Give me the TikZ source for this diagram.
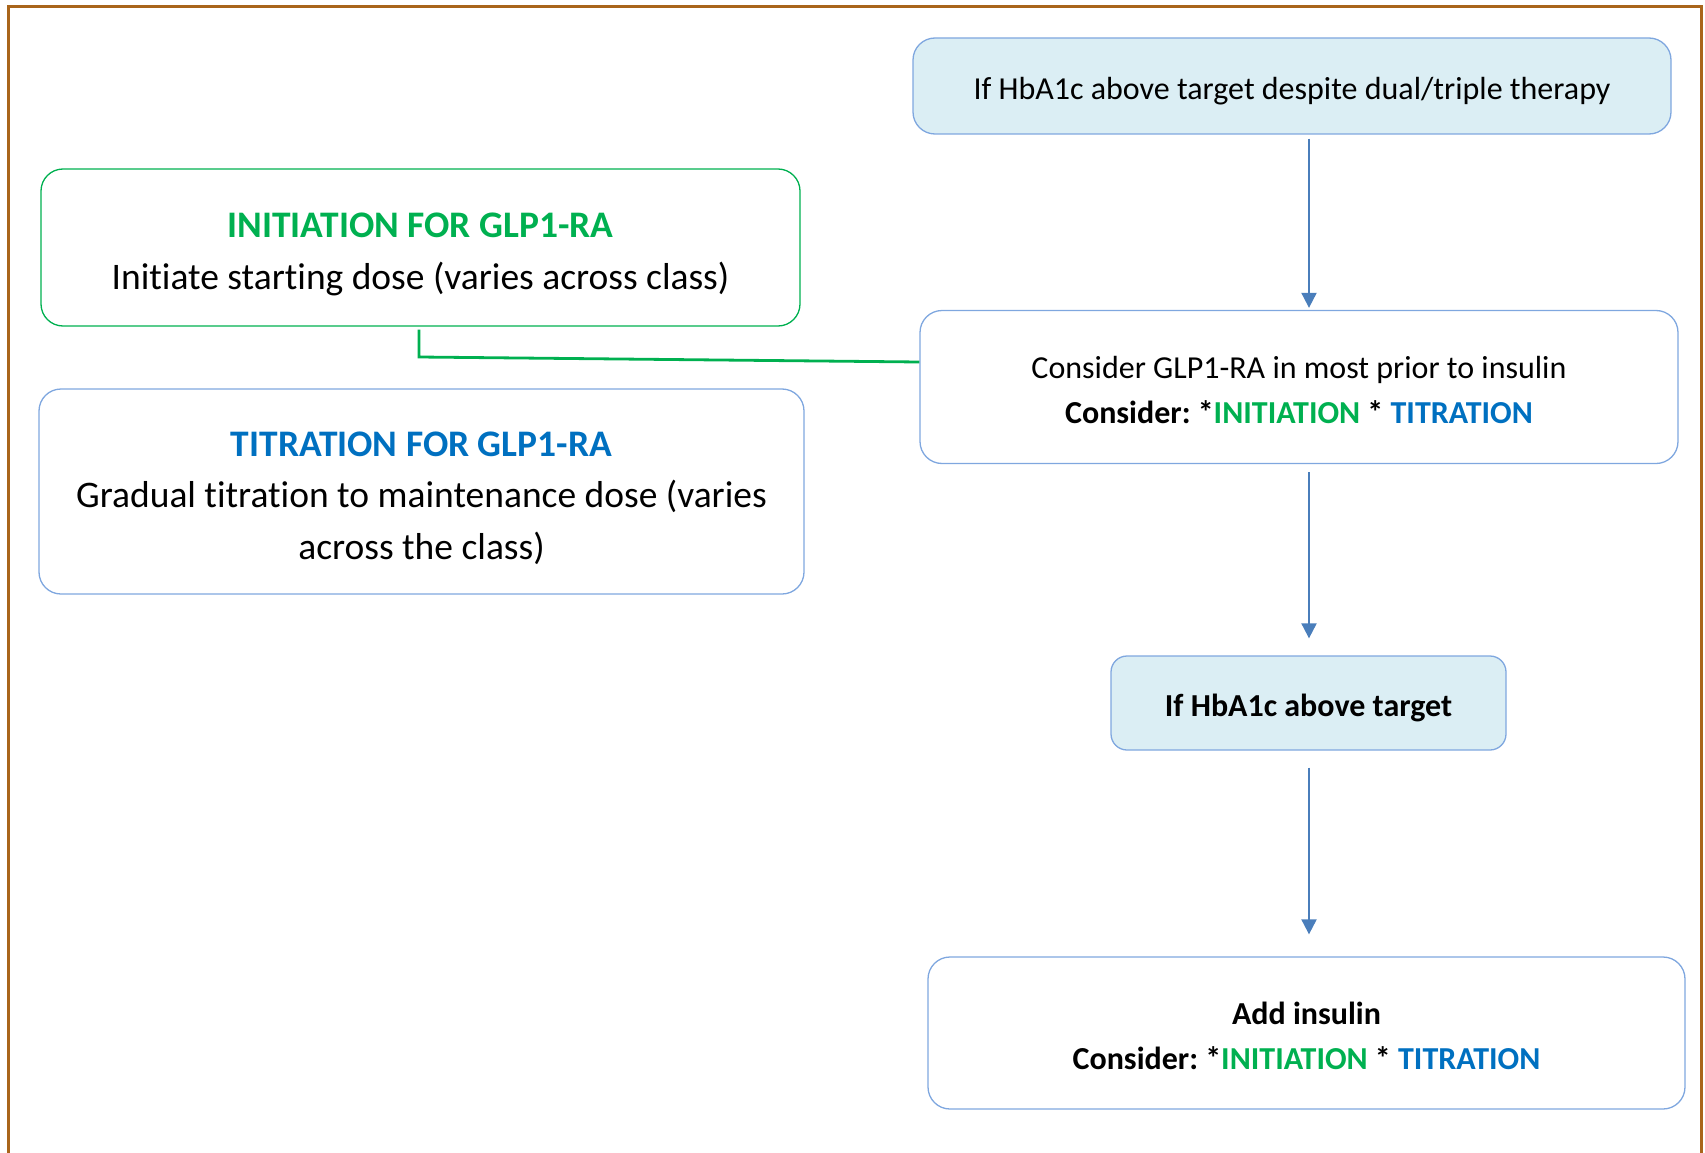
\documentclass[tikz,border=0pt]{standalone}
\usepackage{fontspec}
\setmainfont{Carlito}[Ligatures=NoCommon]
\usetikzlibrary{arrows.meta}
\definecolor{framec}{HTML}{A9651B}
\definecolor{gr}{HTML}{00B050}
\definecolor{bl}{HTML}{0070C0}
\definecolor{boxline}{HTML}{7FA7DF}
\definecolor{fillb}{HTML}{DBEEF4}
\definecolor{arr}{HTML}{4A7EBB}
\frenchspacing
\begin{document}
\begin{tikzpicture}[x=1pt,y=-1pt,
  box/.style={draw=boxline, line width=1.3pt, rounded corners=22pt, inner sep=0pt},
  shaded/.style={box, fill=fillb},
  gbox/.style={box, draw=gr},
  rtext/.style={font=\fontsize{32}{45}\selectfont, align=center, inner sep=0pt},
  ltext/.style={font=\fontsize{37.5}{51.5}\selectfont, align=center, inner sep=0pt},
  flow/.style={draw=arr, line width=2pt, -{Triangle[width=15pt,length=15pt]}},
  link/.style={draw=gr, line width=2.8pt}]
\useasboundingbox (0,0) rectangle (1705,1153);
\draw[framec, line width=3pt] (8,1160) -- (8,7) -- (1701,7) -- (1701,1160);

\node[shaded, minimum width=758pt, minimum height=96pt] (b1) at (1292,86) {};
\node[rtext] (b1t) at ([yshift=-5pt]b1.center)
  {If HbA1c above target despite dual/triple therapy};
\node[box, minimum width=758pt, minimum height=153pt] (b2) at (1299,387) {};
\node[rtext] (b2t) at ([yshift=-3pt]b2.center)
  {Consider GLP1-RA in most prior to insulin\\
   \textbf{Consider: *\textcolor{gr}{INITIATION} * \textcolor{bl}{TITRATION}}};
\node[shaded, rounded corners=16pt, minimum width=395pt, minimum height=94pt] (b3) at (1308.5,703) {};
\node[rtext] (b3t) at ([yshift=-5pt]b3.center) {\textbf{If HbA1c above target}};
\node[box, minimum width=757pt, minimum height=152pt] (b4) at (1306.5,1033) {};
\node[rtext] (b4t) at ([yshift=-3pt]b4.center)
  {\textbf{Add insulin}\\
   \textbf{Consider: *\textcolor{gr}{INITIATION} * \textcolor{bl}{TITRATION}}};
\node[gbox, minimum width=759pt, minimum height=157pt] (g) at (420.5,247.5) {};
\node[ltext] (gt) at ([yshift=-7pt]g.center)
  {\textbf{\textcolor{gr}{INITIATION FOR GLP1-RA}}\\
   Initiate starting dose (varies across class)};
\node[box, minimum width=765pt, minimum height=205pt] (t) at (421.5,491.5) {};
\node[ltext] (tt) at ([yshift=-6.5pt]t.center)
  {\textbf{\textcolor{bl}{TITRATION FOR GLP1-RA}}\\
   Gradual titration to maintenance dose (varies\\
   across the class)};

\coordinate (ax) at (1309,0);
\draw[flow, shorten <=4pt, shorten >=2pt] (b1.south -| ax) -- (b2.north -| ax);
\draw[flow, shorten <=8pt, shorten >=17pt] (b2.south -| ax) -- (b3.north -| ax);
\draw[flow, shorten <=17pt, shorten >=22pt] (b3.south -| ax) -- (b4.north -| ax);

\coordinate (gbend) at (419,357);
\draw[link] ([yshift=-3pt]g.south -| gbend) -- (gbend) -- ([yshift=25pt]b2.west);
\end{tikzpicture}
\end{document}
